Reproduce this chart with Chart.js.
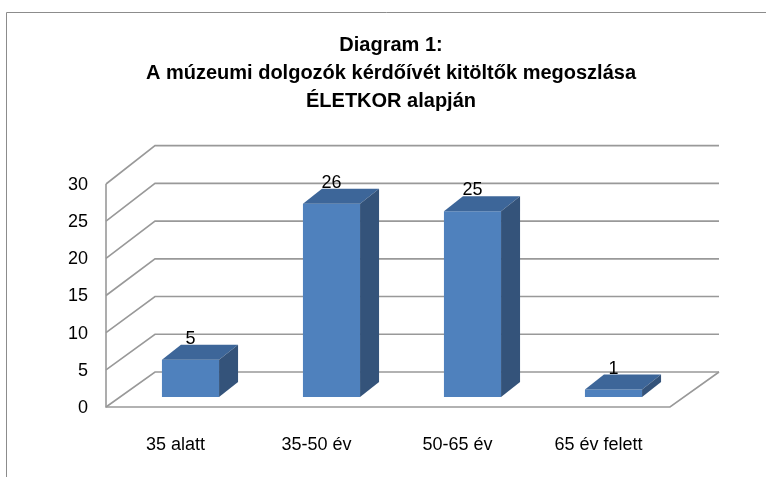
<!DOCTYPE html>
<html>
<head>
<meta charset="utf-8">
<script src="https://cdn.jsdelivr.net/npm/chart.js@4/dist/chart.umd.min.js"></script>
<style>
  html, body { margin: 0; padding: 0; background: #fff; }
  #c { display: block; }
</style>
</head>
<body>
<canvas id="c" width="766" height="477"></canvas>
<script>
// Age distribution of museum staff questionnaire respondents (3D-look column chart)
const titleLines = ['Diagram 1:', 'A múzeumi dolgozók kérdőívét kitöltők megoszlása', 'ÉLETKOR alapján'];
const categories = ['35 alatt', '35-50 év', '50-65 év', '65 év felett'];
const values = [5, 26, 25, 1];
const yTicks = [0, 5, 10, 15, 20, 25, 30];

const FRONT = { dx: -14, dy: 10 };   // left wall / floor front edge
const BACK = { dx: 35, dy: -25 };    // back wall
const BACK_SCALE = 1.015;            // back wall is a touch taller
const DEPTH = { dx: 19, dy: -15 };   // bar depth
const FONT = '"Liberation Sans", Arial, sans-serif';

const fake3d = {
  id: 'fake3d',
  beforeDatasetsDraw(chart) {
    const ctx = chart.ctx, y = chart.scales.y, area = chart.chartArea;
    const y0 = y.getPixelForValue(0);
    const backY = v => y0 + BACK.dy + (y.getPixelForValue(v) - y0) * BACK_SCALE;
    ctx.save();
    // outer frame
    ctx.strokeStyle = '#8c8c8c';
    ctx.lineWidth = 1;
    ctx.beginPath();
    ctx.moveTo(6.5, 477); ctx.lineTo(6.5, 12.5); ctx.lineTo(766, 12.5);
    ctx.stroke();

    // title
    ctx.fillStyle = '#000';
    ctx.textAlign = 'center';
    ctx.textBaseline = 'middle';
    ctx.font = 'bold 20px ' + FONT;
    titleLines.forEach((t, i) => ctx.fillText(t, 391, 45 + i * 28));

    // walls and gridlines
    ctx.strokeStyle = '#999';
    ctx.lineWidth = 1.6;
    const fx = area.left + FRONT.dx, bx = area.left + BACK.dx, bxr = area.right + BACK.dx;
    yTicks.forEach(v => {
      const py = y.getPixelForValue(v);
      ctx.beginPath();
      ctx.moveTo(fx, py + FRONT.dy);
      ctx.lineTo(bx, backY(v));
      ctx.lineTo(bxr, backY(v));
      ctx.stroke();
    });
    const yTop = y.getPixelForValue(yTicks[yTicks.length - 1]);
    ctx.beginPath();
    ctx.moveTo(fx, yTop + FRONT.dy);
    ctx.lineTo(fx, y0 + FRONT.dy);
    ctx.lineTo(area.right + FRONT.dx, y0 + FRONT.dy);
    ctx.lineTo(bxr, backY(0));
    ctx.stroke();

    // y tick labels
    ctx.fillStyle = '#000';
    ctx.font = '18px ' + FONT;
    ctx.textAlign = 'right';
    yTicks.forEach(v => ctx.fillText(String(v), 88, y.getPixelForValue(v) + FRONT.dy + 1));

    // category labels
    ctx.textAlign = 'center';
    const xs = chart.scales.x;
    categories.forEach((c, i) => ctx.fillText(c, xs.getPixelForValue(i) + FRONT.dx - 1, 445));
    ctx.restore();
  },
  afterDatasetsDraw(chart) {
    const ctx = chart.ctx;
    const meta = chart.getDatasetMeta(0);
    ctx.save();
    meta.data.forEach((bar, i) => {
      const x0 = bar.x - bar.width / 2, x1 = bar.x + bar.width / 2;
      const top = bar.y, base = bar.base;
      // top face
      ctx.fillStyle = '#3d6699';
      ctx.beginPath();
      ctx.moveTo(x0, top); ctx.lineTo(x1, top);
      ctx.lineTo(x1 + DEPTH.dx, top + DEPTH.dy); ctx.lineTo(x0 + DEPTH.dx, top + DEPTH.dy);
      ctx.closePath(); ctx.fill();
      // side face
      ctx.fillStyle = '#34537a';
      ctx.beginPath();
      ctx.moveTo(x1, top); ctx.lineTo(x1 + DEPTH.dx, top + DEPTH.dy);
      ctx.lineTo(x1 + DEPTH.dx, base + DEPTH.dy); ctx.lineTo(x1, base);
      ctx.closePath(); ctx.fill();
      // value label
      ctx.fillStyle = '#000';
      ctx.font = '18px ' + FONT;
      ctx.textAlign = 'center';
      ctx.textBaseline = 'middle';
      ctx.fillText(String(values[i]), bar.x, top - 21);
    });
    ctx.restore();
  }
};

new Chart(document.getElementById('c'), {
  type: 'bar',
  data: {
    labels: categories,
    datasets: [{
      data: values,
      backgroundColor: '#4f81bd',
      borderWidth: 0,
      categoryPercentage: 1,
      barPercentage: 0.405
    }]
  },
  options: {
    responsive: false,
    animation: false,
    layout: { padding: { left: 120, right: 82, top: 174, bottom: 80 } },
    scales: {
      x: { display: false },
      y: { display: false, min: 0, max: 30 }
    },
    plugins: { legend: { display: false }, tooltip: { enabled: false }, title: { display: false } }
  },
  plugins: [fake3d]
});
</script>
</body>
</html>
